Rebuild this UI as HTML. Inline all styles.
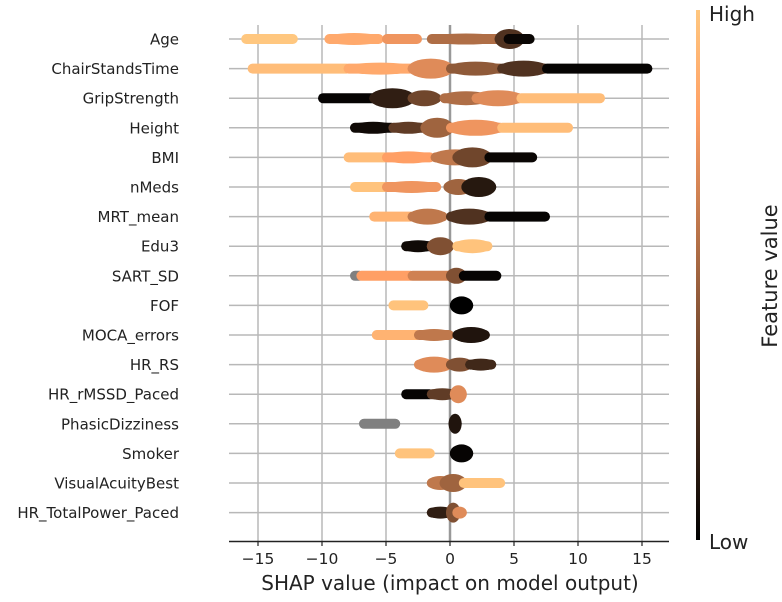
<!DOCTYPE html>
<html><head><meta charset="utf-8"><style>
body{margin:0;background:#fff}
svg{display:block;font-family:"DejaVu Sans","Liberation Sans",sans-serif}
</style></head><body>
<svg id="chart" width="782" height="602" viewBox="0 0 782 602">
<defs><linearGradient id="cg" x1="0" y1="1" x2="0" y2="0">
<stop offset="0" stop-color="#000"/><stop offset="0.25" stop-color="#503220"/><stop offset="0.5" stop-color="#a06440"/><stop offset="0.75" stop-color="#ef955f"/><stop offset="0.8" stop-color="#ff9f65"/><stop offset="1" stop-color="#ffc77f"/></linearGradient></defs>
<g id="grid"></g><g id="marks"></g><g id="axes"></g>
</svg>
<script>
const features=["Age","ChairStandsTime","GripStrength","Height","BMI","nMeds","MRT_mean","Edu3","SART_SD","FOF","MOCA_errors","HR_RS","HR_rMSSD_Paced","PhasicDizziness","Smoker","VisualAcuityBest","HR_TotalPower_Paced"];
const xTicks=[-15,-10,-5,0,5,10,15];
// blobs per feature: [shapStart, shapEnd, halfThickness, featureValue(0-1, -1 = missing/gray)]
const blobs=[
[[-16,-12.2,3,1.0],[-9.5,-5.5,4,0.85],[-5,-2.5,3,0.75],[-1.5,4,3.5,0.55],[3.8,5.5,8,0.25],[4.5,6.3,3,0.03]],
[[-15.5,-8,3,0.95],[-8,-3,4,0.85],[-3,0,8,0.7],[0,4,5,0.45],[4,7.5,6,0.25],[7.5,15.5,3,0.02]],
[[-10,-6,3,0.02],[-6,-3,8,0.15],[-3,-1,6,0.35],[-0.5,3,5,0.55],[2,5.5,6,0.7],[5.5,11.8,3,0.95]],
[[-7.5,-4.5,4,0.05],[-4.5,-2,4,0.3],[-2,0,8,0.5],[0,4,6,0.75],[4,9.3,3,0.95]],
[[-8,-5,3,0.95],[-5,-1.5,4,0.8],[-1.2,2,6,0.6],[0.5,3,8,0.35],[3,6.5,3,0.03]],
[[-7.5,-5,3,0.98],[-5,-1,4,0.75],[-0.2,1.5,6,0.5],[1.2,3.3,8,0.12]],
[[-6,-3,3,0.9],[-3,-0.5,6,0.6],[0,3,6,0.25],[3,7.5,3,0.02]],
[[-3.5,-1.5,4,0.05],[-1.5,0,7,0.4],[0.5,3,5,0.98]],
[[-7.5,-7,3,-1],[-7,-3,3,0.8],[-3,0,3,0.65],[0,1,6,0.4],[1,3.7,3,0.02]],
[[-4.5,-2,3,0.98],[0.3,1.5,7,0.0]],
[[-5.8,-2.5,3,0.9],[-2.5,0,4,0.6],[0.5,2.8,6,0.1]],
[[-2.5,0,6,0.7],[0,1.5,5,0.4],[1.5,3.3,4,0.2]],
[[-3.5,-1.5,3,0.02],[-1.5,0.3,4,0.3],[0.3,1,7,0.7]],
[[-6.8,-4.2,3,-1],[0.2,0.6,8,0.1]],
[[-4,-1.5,3,0.98],[0.3,1.5,7,0.02]],
[[-1.5,0,5,0.6],[-0.5,1,7,0.5],[1,4,3,0.98]],
[[-1.5,0,4,0.15],[0,0.5,8,0.4],[0.5,1,4,0.7]]
];
const X=v=>450+v*12.8;
const Y=i=>39+i*29.6;
function col(t){if(t<0)return"#808080";const r=Math.min(255,Math.round(255*1.25*t)),g=Math.round(255*0.7812*t),b=Math.round(255*0.4975*t);return`rgb(${r},${g},${b})`;}
const NS="http://www.w3.org/2000/svg";
function mk(p,tag,at){const e=document.createElementNS(NS,tag);for(const k in at)e.setAttribute(k,at[k]);p.appendChild(e);return e;}
const grid=document.getElementById('grid'),marks=document.getElementById('marks'),axes=document.getElementById('axes');
xTicks.forEach(t=>{const l=mk(grid,'line',{x1:X(t),x2:X(t),y1:25,y2:541,stroke:'#b8b8b8','stroke-width':1.5});

});
features.forEach((f,i)=>{const l=mk(grid,'line',{x1:229,x2:669,y1:Y(i),y2:Y(i),stroke:'#b8b8b8','stroke-width':1.5});


const tx=mk(axes,'text',{x:179,y:Y(i)+5.5,'text-anchor':'end','font-size':15,fill:'#222'});tx.textContent=f;

});
const zl=mk(grid,'line',{x1:X(0),x2:X(0),y1:25,y2:541,stroke:'#999','stroke-width':2.5});


blobs.forEach((bs,i)=>{bs.forEach(b=>{const x0=X(b[0]),x1=X(b[1]),h=b[2]+2,c=col(b[3]),y=Y(i);
const g=mk(marks,'g',{fill:c});


const hr=Math.min(h,5);
mk(g,'rect',{x:x0-4,y:y-hr,width:x1-x0+8,height:2*hr,rx:hr});
if(h>5)mk(g,'ellipse',{cx:(x0+x1)/2,cy:y,rx:(x1-x0)/2+4,ry:h});});});
const ax=mk(axes,'line',{x1:229,x2:669,y1:541.5,y2:541.5,stroke:'#222','stroke-width':1.5});


xTicks.forEach(t=>{mk(axes,'line',{x1:X(t),x2:X(t),y1:541,y2:546,stroke:'#222','stroke-width':1.2});
const tx=mk(axes,'text',{x:X(t),y:564,'text-anchor':'middle','font-size':15.5,fill:'#222'});tx.textContent=(t<0?'\u2212'+(-t):t);

});
const s=document.getElementById('chart');
function add(tag,at,txt){const e=document.createElementNS(NS,tag);for(const k in at)e.setAttribute(k,at[k]);if(txt)e.textContent=txt;s.appendChild(e);return e;}
let cb=add('rect',{x:696,y:10,width:4,height:530,fill:'url(#cg)'});


let t1=add('text',{x:709,y:21,'font-size':20,fill:'#222'},'High');


let t2=add('text',{x:709,y:549,'font-size':20,fill:'#222'},'Low');


let t3=add('text',{x:0,y:0,'font-size':21,fill:'#222','text-anchor':'middle',transform:'translate(777,276) rotate(-90)'},'Feature value');


let t4=add('text',{x:450,y:590,'text-anchor':'middle','font-size':20,fill:'#222'},'SHAP value (impact on model output)');


</script>
</body></html>
